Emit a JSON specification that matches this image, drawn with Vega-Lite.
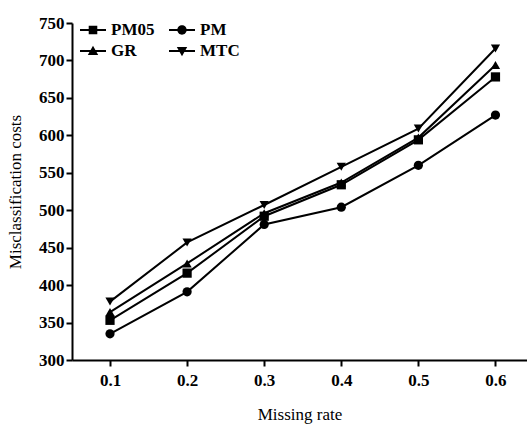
{
  "$schema": "https://vega.github.io/schema/vega-lite/v6.json",
  "width": 455,
  "height": 337,
  "autosize": {"type": "none"},
  "padding": {"left": 72, "top": 23, "right": 0, "bottom": 66},
  "background": "white",
  "config": {
    "view": {"stroke": null},
    "font": "Liberation Serif",
    "axis": {
      "domainColor": "black", "domainWidth": 2, "tickColor": "black", "tickWidth": 2, "tickSize": 6,
      "labelFont": "Liberation Serif", "labelFontWeight": "bold", "labelFontSize": 17, "labelColor": "black",
      "titleFont": "Liberation Serif", "titleFontWeight": "normal", "titleFontSize": 17, "titleColor": "black",
      "grid": false
    }
  },
  "data": {
    "values": [
      {"rate": 0.1, "series": "PM05", "cost": 353},
      {"rate": 0.2, "series": "PM05", "cost": 416},
      {"rate": 0.3, "series": "PM05", "cost": 492},
      {"rate": 0.4, "series": "PM05", "cost": 534},
      {"rate": 0.5, "series": "PM05", "cost": 594},
      {"rate": 0.6, "series": "PM05", "cost": 678},
      {"rate": 0.1, "series": "PM", "cost": 335},
      {"rate": 0.2, "series": "PM", "cost": 391},
      {"rate": 0.3, "series": "PM", "cost": 481},
      {"rate": 0.4, "series": "PM", "cost": 504},
      {"rate": 0.5, "series": "PM", "cost": 560},
      {"rate": 0.6, "series": "PM", "cost": 627},
      {"rate": 0.1, "series": "GR", "cost": 364},
      {"rate": 0.2, "series": "GR", "cost": 429},
      {"rate": 0.3, "series": "GR", "cost": 496},
      {"rate": 0.4, "series": "GR", "cost": 537},
      {"rate": 0.5, "series": "GR", "cost": 597},
      {"rate": 0.6, "series": "GR", "cost": 694},
      {"rate": 0.1, "series": "MTC", "cost": 378},
      {"rate": 0.2, "series": "MTC", "cost": 457},
      {"rate": 0.3, "series": "MTC", "cost": 507},
      {"rate": 0.4, "series": "MTC", "cost": 558},
      {"rate": 0.5, "series": "MTC", "cost": 609},
      {"rate": 0.6, "series": "MTC", "cost": 716}
    ]
  },
  "encoding": {
    "x": {
      "field": "rate", "type": "quantitative",
      "scale": {"domain": [0.0507, 0.6409], "nice": false, "zero": false},
      "axis": {"values": [0.1, 0.2, 0.3, 0.4, 0.5, 0.6], "format": ".1f", "title": "Missing rate", "labelPadding": 6, "titlePadding": 18}
    },
    "y": {
      "field": "cost", "type": "quantitative",
      "scale": {"domain": [300, 750], "nice": false, "zero": false},
      "axis": {"values": [300, 350, 400, 450, 500, 550, 600, 650, 700, 750], "title": "Misclassification costs", "labelPadding": 2, "titlePadding": 14}
    }
  },
  "layer": [
    {
      "mark": {"type": "line", "color": "black", "strokeWidth": 2},
      "encoding": {"detail": {"field": "series"}}
    },
    {
      "mark": {"type": "point", "filled": true, "color": "black", "opacity": 1, "size": 85},
      "encoding": {
        "shape": {
          "field": "series", "type": "nominal",
          "scale": {"domain": ["PM05", "PM", "GR", "MTC"], "range": ["square", "circle", "triangle-up", "triangle-down"]},
          "legend": null
        }
      }
    },
    {
      "mark": {"type": "point", "filled": true, "color": "black", "opacity": 0, "size": 1},
      "encoding": {
        "shape": {
          "field": "series", "type": "nominal",
          "scale": {"domain": ["PM05", "PM", "GR", "MTC"], "range": [
            "M-1,-0.08H1V0.08H-1Z M-0.33,-0.33H0.33V0.33H-0.33Z",
            "M-1,-0.08H1V0.08H-1Z M-0.36,0A0.36,0.36 0 1,1 0.36,0A0.36,0.36 0 1,1 -0.36,0Z",
            "M-1,-0.08H1V0.08H-1Z M0,-0.4L0.4,0.3H-0.4Z",
            "M-1,-0.08H1V0.08H-1Z M-0.4,-0.3H0.4L0,0.4Z"
          ]},
          "legend": {
            "title": null, "orient": "none", "legendX": 8, "legendY": -6,
            "direction": "horizontal", "columns": 2, "columnPadding": 14, "rowPadding": -5,
            "symbolSize": 676, "symbolOpacity": 1, "symbolFillColor": "black", "symbolStrokeWidth": 0, "symbolStrokeColor": "black",
            "labelFont": "Liberation Serif", "labelFontWeight": "bold", "labelFontSize": 17, "labelColor": "black", "labelOffset": 5
          }
        }
      }
    }
  ],
  "resolve": {"scale": {"shape": "independent"}}
}
